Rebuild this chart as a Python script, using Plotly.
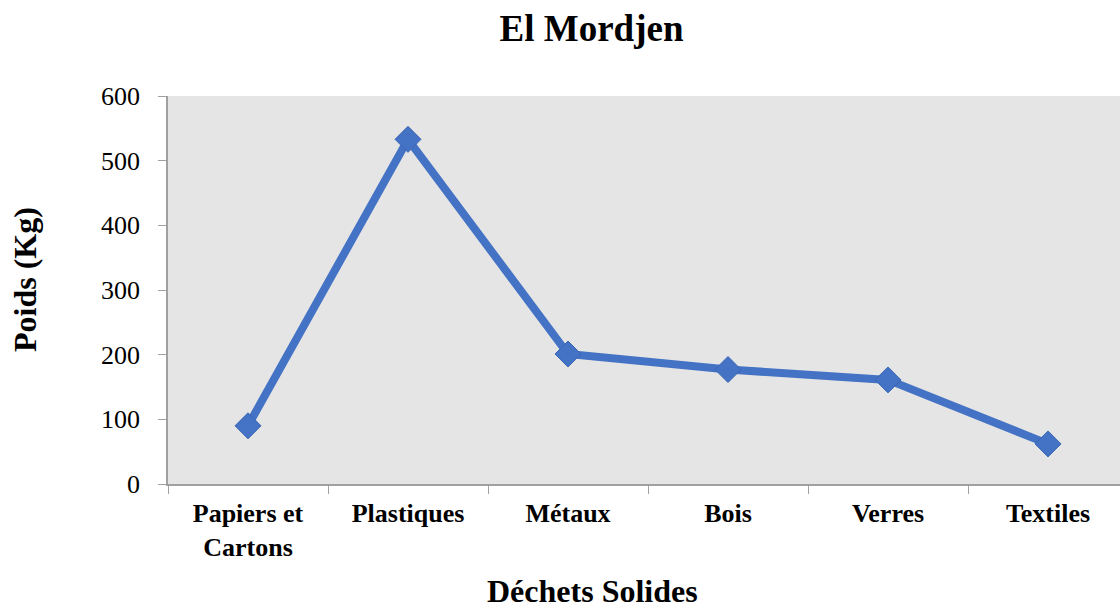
import plotly.graph_objects as go

categories = ["Papiers et<br>Cartons", "Plastiques", "Métaux", "Bois", "Verres", "Textiles"]
poids = [90, 533, 201, 177, 161, 62]
y_ticks = [0, 100, 200, 300, 400, 500, 600]

title_text = "El Mordjen"
x_title = "Déchets Solides"
y_title = "Poids (Kg)"

FONT = "Liberation Serif, Times New Roman, serif"
BLUE = "#4472C4"

L, R, T, B = 168, 1120, 96, 484

fig = go.Figure()
fig.add_trace(go.Scatter(
    x=categories, y=poids, mode="lines+markers",
    line=dict(color=BLUE, width=8),
    marker=dict(symbol="diamond", size=20, color=BLUE,
                line=dict(color="#3a66b5", width=1)),
    showlegend=False,
))

fig.update_layout(
    width=1120, height=608,
    margin=dict(l=L, r=1120 - R, t=T, b=608 - B),
    paper_bgcolor="white",
    plot_bgcolor="#e5e5e5",
    font=dict(family=FONT, color="black"),
    title=dict(text=title_text, x=591.5 / 1120, xref="container", xanchor="center",
               y=1 - 28 / 608, yref="container", yanchor="middle",
               font=dict(family=FONT, size=37, weight="bold", color="black")),
    annotations=[
        dict(text=x_title, x=(592 - L) / (R - L), y=(B - 591) / (B - T),
             xref="paper", yref="paper",
             showarrow=False, xanchor="center", yanchor="middle",
             font=dict(family=FONT, size=32, weight="bold")),
        dict(text=y_title, x=(25 - L) / (R - L), y=(B - 280) / (B - T),
             xref="paper", yref="paper",
             showarrow=False, xanchor="center", yanchor="middle", textangle=-90,
             font=dict(family=FONT, size=32, weight="bold")),
    ],
)

fig.update_xaxes(
    type="category",
    range=[-0.5, -0.5 + (R - L) / 160],
    tickson="boundaries",
    ticks="outside", ticklen=8, tickcolor="#a0a0a0",
    showline=True, linecolor="#a0a0a0", linewidth=1.5,
    showgrid=False, zeroline=False,
    tickfont=dict(family=FONT, size=26, weight="bold", color="black"),
    ticklabelstandoff=5,
)
fig.update_yaxes(
    range=[0, 600],
    tickvals=y_ticks,
    ticks="outside", ticklen=8, tickcolor="#a0a0a0",
    showline=True, linecolor="#a0a0a0", linewidth=1.5,
    showgrid=False, zeroline=False,
    tickfont=dict(family=FONT, size=26, color="black"),
    ticklabelstandoff=13,
)

fig.write_html(
    "out.html",
    config={"displayModeBar": False},
    post_script="document.body.style.margin='0';document.body.style.padding='0';"
                "document.body.style.overflow='hidden';",
)
